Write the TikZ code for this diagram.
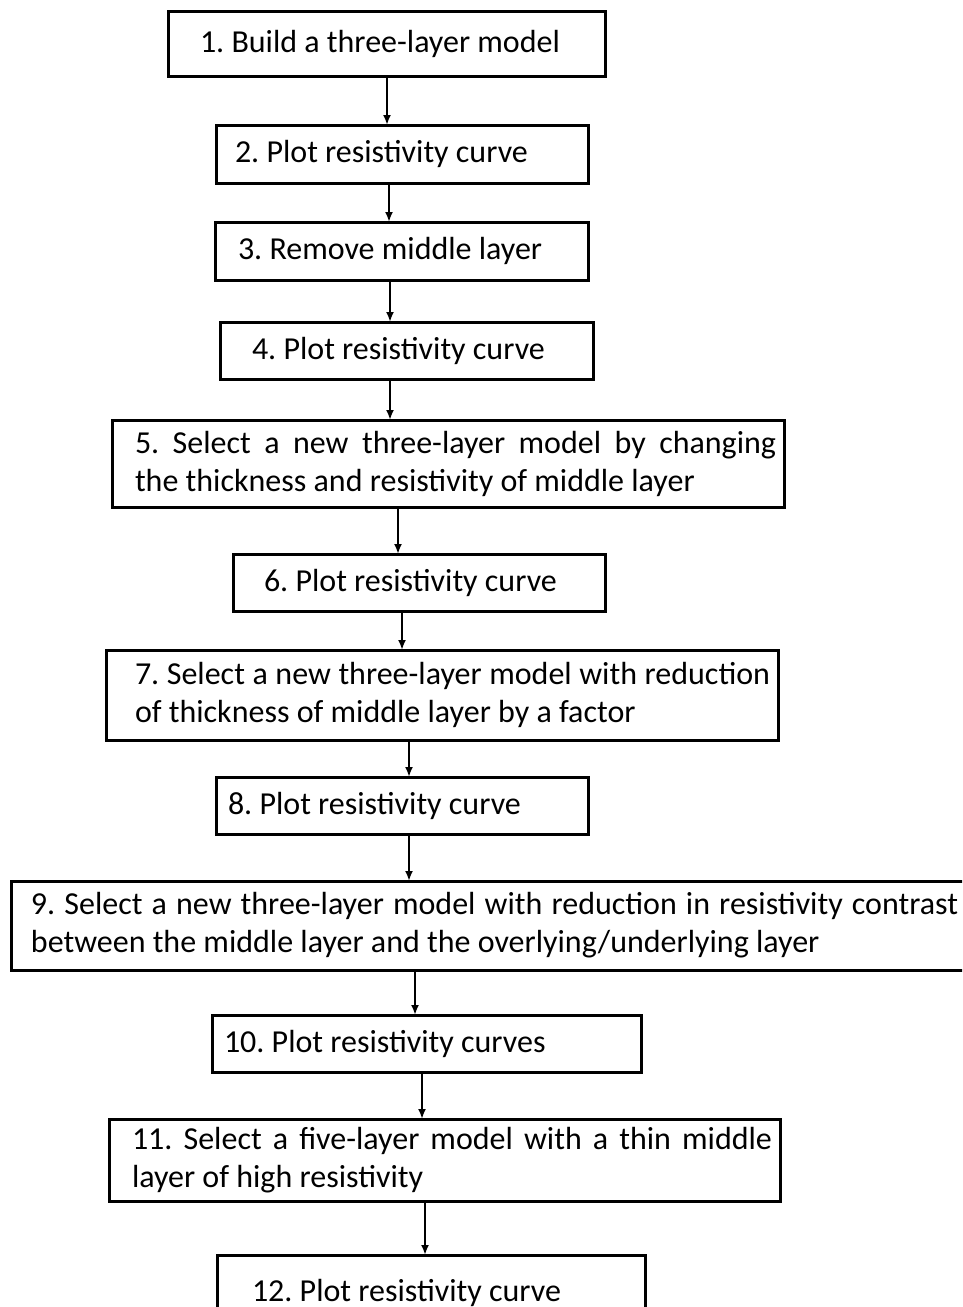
\documentclass[tikz,border=0pt]{standalone}
\usepackage{fontspec}
\setmainfont{Carlito}
\usetikzlibrary{arrows.meta}
\frenchspacing

\tikzset{
  stepbox/.style={draw, line width=3pt, anchor=north west, outer sep=0pt,
    inner xsep=8pt, inner ysep=0pt, align=justify,
    font=\fontsize{32}{38}\selectfont},
  textindent/.style={execute at begin node={\leftskip=#1pt}},
  flow/.style={-{Latex[length=10pt, width=8pt]}, line width=2.5pt}
}

\begin{document}
\begin{tikzpicture}[x=1pt, y=-1pt]
\path[use as bounding box, clip] (0,0) rectangle (962,1307);

\node [stepbox, text width=421, minimum height=65, textindent=24] (s1) at (168,11)
  {1. Build a three-layer model};
\node [stepbox, text width=356, minimum height=58, textindent=11] (s2) at (216,125)
  {2. Plot resistivity curve};
\node [stepbox, text width=357, minimum height=58, textindent=15] (s3) at (215,222)
  {3. Remove middle layer};
\node [stepbox, text width=357, minimum height=57, textindent=24] (s4) at (220,322)
  {4. Plot resistivity curve};
\node [stepbox, text width=656, minimum height=87, textindent=15] (s5) at (112,420)
  {5. Select a new three-layer model by changing\linebreak the thickness and resistivity of middle layer};
\node [stepbox, text width=356, minimum height=57, textindent=23] (s6) at (233,554)
  {6. Plot resistivity curve};
\node [stepbox, text width=656, minimum height=90, textindent=21] (s7) at (106,650)
  {7. Select a new three-layer model with reduction of thickness of middle layer by a factor};
\node [stepbox, text width=356, minimum height=57, textindent=4] (s8) at (216,777)
  {8. Plot resistivity curve};
\node [stepbox, text width=939, minimum height=89, textindent=12] (s9) at (11,881)
  {9. Select a new three-layer model with reduction in resistivity contrast between the middle layer and the overlying/underlying layer};
\node [stepbox, text width=413, minimum height=57, textindent=4] (s10) at (212,1015)
  {10. Plot resistivity curves};
\node [stepbox, text width=655, minimum height=82, textindent=15] (s11) at (109,1119)
  {11. Select a five-layer model with a thin middle layer of high resistivity};
\node [stepbox, text width=412, minimum height=75, textindent=27] (s12) at (217,1255)
  {12. Plot resistivity curve};

\foreach \a/\b/\x in {s1/s2/387, s2/s3/389, s3/s4/390, s4/s5/390, s5/s6/398,
  s6/s7/402, s7/s8/409, s8/s9/409, s9/s10/415, s10/s11/422, s11/s12/425} {
\draw [flow] (\a.south -| \x,0) -- (\b.north -| \x,0);
}

\end{tikzpicture}
\end{document}
